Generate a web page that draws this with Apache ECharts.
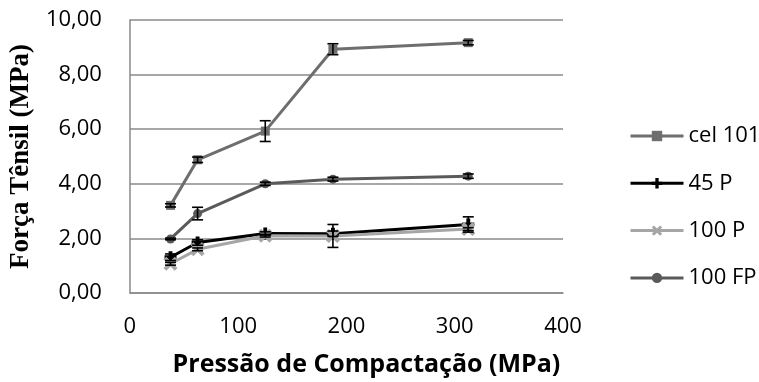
<!DOCTYPE html>
<html>
<head>
<meta charset="utf-8">
<script src="https://cdn.jsdelivr.net/npm/echarts@6/dist/echarts.min.js"></script>
<style>
html,body{margin:0;padding:0;background:#fff;}
#chart{width:759px;height:382px;}
</style>
</head>
<body>
<div id="chart"></div>
<script>
// Compaction pressure (MPa)
const pressures = [37.5, 62.5, 125, 187.5, 312.5];
const seriesNames = ['cel 101', '45 P', '100 P', '100 FP'];
// Tensile strength (MPa)
const cel101 = [3.21, 4.88, 5.93, 8.93, 9.17];
const p45 = [1.31, 1.85, 2.18, 2.17, 2.51];
const p100 = [1.07, 1.60, 2.10, 2.09, 2.34];
const fp100 = [1.98, 2.91, 4.00, 4.17, 4.28];
// Error bars (± MPa)
const cel101Err = [0.06, 0.10, 0.38, 0.20, 0.08];
const p45Err = [0.12, 0.10, 0.06, 0.10, 0.28];
const p100Err = [0.05, 0.05, 0.05, 0.42, 0.05];
const fp100Err = [0.03, 0.23, 0.06, 0.07, 0.08];
const xTicks = [0, 100, 200, 300, 400];
const yTicks = [0, 2, 4, 6, 8, 10];

const plusPath = 'path://M3.4,0H6.6V3.4H10V6.6H6.6V10H3.4V6.6H0V3.4H3.4Z';
const xPath = 'path://M0,2L2,0L5,3L8,0L10,2L7,5L10,8L8,10L5,7L2,10L0,8L3,5Z';

function pts(vals) { return pressures.map((p, i) => [p, vals[i]]); }
function errPts(vals, errs) { return pressures.map((p, i) => [p, vals[i], errs[i]]); }

function errSeries(vals, errs) {
  return {
    type: 'custom',
    data: errPts(vals, errs),
    z: 5,
    silent: true,
    renderItem: function (params, api) {
      const x = api.value(0), y = api.value(1), e = api.value(2);
      const t = api.coord([x, y + e]);
      const b = api.coord([x, y - e]);
      const hw = 5.5;
      const st = { stroke: '#000', lineWidth: 1.6 };
      return {
        type: 'group',
        children: [
          { type: 'line', shape: { x1: t[0], y1: t[1], x2: b[0], y2: b[1] }, style: st },
          { type: 'line', shape: { x1: t[0] - hw, y1: t[1], x2: t[0] + hw, y2: t[1] }, style: st },
          { type: 'line', shape: { x1: b[0] - hw, y1: b[1], x2: b[0] + hw, y2: b[1] }, style: st }
        ]
      };
    }
  };
}

const chart = echarts.init(document.getElementById('chart'), null, { renderer: 'canvas' });
const font = '"Open Sans", sans-serif';
const axisGray = '#8a8a8a';

chart.setOption({
  animation: false,
  backgroundColor: '#fff',
  grid: { left: 127, right: 196, top: 20, bottom: 87 },
  xAxis: {
    type: 'value',
    min: xTicks[0], max: xTicks[xTicks.length - 1], interval: 100,
    name: 'Pressão de Compactação (MPa)',
    nameLocation: 'middle',
    nameGap: 59,
    nameTextStyle: { fontFamily: font, fontWeight: 'bold', fontSize: 25, color: '#000', padding: [0, 0, 0, 40] },
    axisLine: { show: true, lineStyle: { color: axisGray, width: 1.5 } },
    axisTick: { show: false },
    splitLine: { show: false },
    axisLabel: { fontFamily: font, fontSize: 22, color: '#000', margin: 23 }
  },
  yAxis: {
    type: 'value',
    min: yTicks[0], max: yTicks[yTicks.length - 1], interval: 2,
    name: 'Força Tênsil (MPa)',
    nameLocation: 'middle',
    nameGap: 92,
    nameTextStyle: { fontFamily: '"Liberation Serif", "Times New Roman", serif', fontWeight: 'bold', fontSize: 27, color: '#000' },
    axisLine: { show: true, lineStyle: { color: axisGray, width: 1.5 } },
    axisTick: { show: false },
    splitLine: { show: true, lineStyle: { color: axisGray, width: 1.5 } },
    axisLabel: {
      fontFamily: font, fontSize: 22, color: '#000', margin: 28,
      formatter: v => v.toFixed(2).replace('.', ',')
    }
  },
  legend: {
    data: seriesNames,
    orient: 'vertical',
    left: 624,
    top: 120,
    itemWidth: 53,
    itemHeight: 13,
    itemGap: 25.3,
    textStyle: { fontFamily: font, fontSize: 22, color: '#000', lineHeight: 13 },
    lineStyle: { width: 3 },
    inactiveColor: '#ccc'
  },
  series: [
    {
      name: seriesNames[0], type: 'line', data: pts(cel101),
      symbol: 'rect', symbolSize: 9, showSymbol: true,
      lineStyle: { color: '#6e6e6e', width: 3 },
      itemStyle: { color: '#6e6e6e' }, z: 2
    },
    {
      name: seriesNames[1], type: 'line', data: pts(p45),
      symbol: plusPath, symbolSize: 12, symbolKeepAspect: true,
      lineStyle: { color: '#000', width: 3 },
      itemStyle: { color: '#000' }, z: 2
    },
    {
      name: seriesNames[2], type: 'line', data: pts(p100),
      symbol: xPath, symbolSize: 14, symbolKeepAspect: true,
      lineStyle: { color: '#a6a6a6', width: 3 },
      itemStyle: { color: '#a6a6a6' }, z: 2
    },
    {
      name: seriesNames[3], type: 'line', data: pts(fp100),
      symbol: 'circle', symbolSize: 9,
      lineStyle: { color: '#5a5a5a', width: 3 },
      itemStyle: { color: '#5a5a5a' }, z: 2
    },
    errSeries(cel101, cel101Err),
    errSeries(p45, p45Err),
    errSeries(p100, p100Err),
    errSeries(fp100, fp100Err)
  ]
});
</script>
</body>
</html>
